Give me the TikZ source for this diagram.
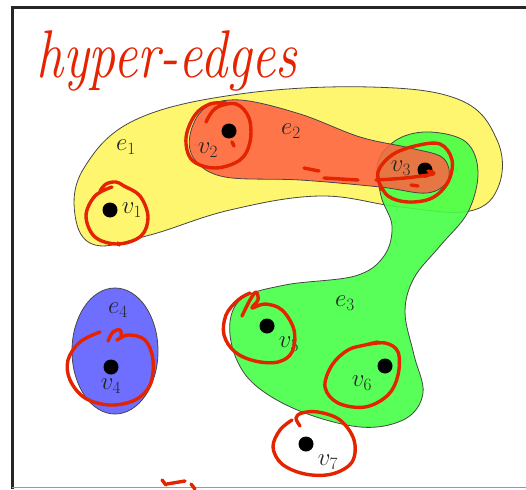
\documentclass[tikz,border=0pt]{standalone}
\definecolor{hyyellow}{RGB}{255,246,112}
\definecolor{hyred}{RGB}{255,95,68}
\definecolor{hygreen}{RGB}{70,255,70}
\definecolor{hyblue}{RGB}{110,110,255}
\definecolor{pen}{RGB}{228,36,0}
\definecolor{outline}{RGB}{70,70,70}
\begin{document}
\begin{tikzpicture}[x=1pt,y=-1pt,
  hedge/.style={draw=outline, line width=0.8pt},
  vtx/.style={circle, fill=black, inner sep=0pt, minimum size=15pt},
  lbl/.style={font=\fontsize{27}{30}\selectfont, inner sep=0pt, text=black!85},
  ink/.style={draw=pen, line width=3.4pt, line cap=round, line join=round}
]
\useasboundingbox (0,0) rectangle (526,489);
% frame
\draw[line width=3pt, black!85] (12.5,489) -- (12.5,7.5) -- (526,7.5);
\draw[line width=1pt, black!40] (12,487.5) -- (526,487.5);

% title
\node[anchor=base west, inner sep=0pt, text=pen, font=\fontsize{54}{54}\selectfont\itshape] (title) at (36,78) {\scalebox{1}[1.25]{hyper-edges}};

% e1 yellow
\draw[hedge, fill=hyyellow] plot[smooth cycle, tension=0.65] coordinates
 {(75,215) (84,168) (135,120) (240,94) (370,87) (460,100) (497,140) (499,185) (470,211) (400,207) (320,196) (230,210) (150,235) (95,245)};
% e4 blue
\draw[hedge, fill=hyblue] (115,351) ellipse [x radius=43, y radius=63];
% e3 green
\draw[hedge, fill=hygreen, fill opacity=0.9] plot[smooth cycle, tension=0.6] coordinates
 {(378,162) (398,139) (430,132) (466,142) (478,172) (468,212) (440,246) (414,278) (405,312) (414,355) (423,393) (405,419) (360,427) (295,409) (248,378) (230,335) (240,300) (285,285) (355,276) (384,256) (392,226) (381,196)};
% e2 red
\draw[hedge, fill=hyred, fill opacity=0.85] plot[smooth cycle, tension=0.6] coordinates
 {(190,135) (205,108) (240,100) (300,114) (360,137) (410,148) (443,158) (448,180) (427,193) (380,187) (300,180) (225,177) (195,160)};

% vertices
\node[vtx] (v1) at (110,210) {};
\node[vtx] (v2) at (229,131) {};
\node[vtx] (v3) at (425,170) {};
\node[vtx] (v4) at (111,367) {};
\node[vtx] (v5) at (267,326) {};
\node[vtx] (v6) at (385,366) {};
\node[vtx] (v7) at (306,444) {};

% labels
\node[lbl] (l1) at (132,210) {$v_1$};
\node[lbl] (l2) at (208,150) {$v_2$};
\node[lbl] (l3) at (401,168) {$v_3$};
\node[lbl] (l4) at (111,386) {$v_4$};
\node[lbl] (l5) at (289,344) {$v_5$};
\node[lbl] (l6) at (362,383) {$v_6$};
\node[lbl] (l7) at (328,462) {$v_7$};
\node[lbl] (le1) at (126,147) {$e_1$};
\node[lbl] (le2) at (291,131) {$e_2$};
\node[lbl] (le3) at (345,303) {$e_3$};
\node[lbl] (le4) at (118,310) {$e_4$};

% hand-drawn red annotations
\draw[ink] plot[smooth, tension=0.6] coordinates
 {(100,191) (106,184) (116,182) (124,186) (140,196) (148,217) (141,236) (118,244) (95,237) (86,216) (95,196) (112,187)};
\draw[ink] (118,243) -- (119,245);
\draw[ink] plot[smooth, tension=0.6] coordinates
 {(206,122) (216,108) (236,104) (249,118) (250,142) (240,160) (215,168) (192,160) (186,138) (195,115) (210,104) (226,103)};
\draw[ink] (232,142) -- (234,146);
\draw[ink] plot[smooth, tension=0.6] coordinates
 {(382,190) (378,172) (392,155) (415,146) (440,144) (452,160) (448,182) (432,198) (408,202) (388,196) (378,180)};
\draw[ink] plot[smooth, tension=0.6] coordinates {(376,180) (405,178) (433,174) (428,171)};
\draw[ink] (411,185) -- (418,186);
\draw[ink] (304,168) -- (319,171);
\draw[ink] (324,178) -- (358,180);
\draw[ink] plot[smooth, tension=0.6] coordinates
 {(108,341) (113,332) (120,330) (121,337) (117,340) (128,335) (145,340) (153,360) (150,385) (135,400) (110,405) (85,398) (70,380) (68,360) (80,342) (100,332)};
\draw[ink] plot[smooth, tension=0.6] coordinates
 {(242,316) (250,300) (256,292) (258,300) (252,308) (265,304) (282,310) (294,330) (292,352) (278,362) (255,361) (235,352) (224,335) (226,315) (238,300) (250,293)};
\draw[ink] plot[smooth, tension=0.6] coordinates
 {(365,345) (385,343) (398,352) (398,375) (388,395) (365,407) (338,403) (325,387) (332,365) (348,350) (365,345) (378,342)};
\draw[ink] plot[smooth, tension=0.6] coordinates
 {(300,426) (296,418) (302,413) (318,412) (340,420) (354,440) (352,462) (332,474) (305,474) (282,464) (273,447) (280,430) (292,420)};
\draw[ink] (162,480) -- (166,485);
\draw[ink] (167,484) -- (185,481);
\draw[ink] (191,484) -- (195,489);
\end{tikzpicture}
\end{document}
